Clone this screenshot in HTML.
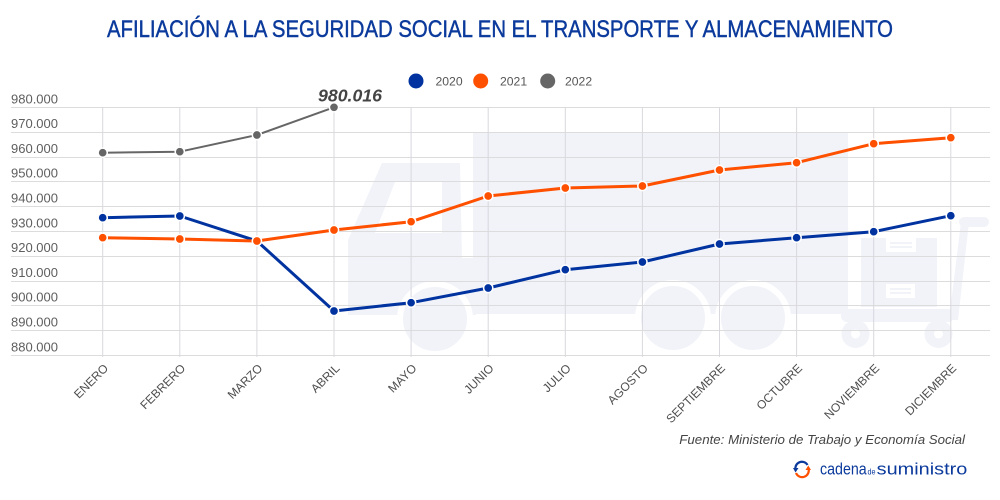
<!DOCTYPE html>
<html><head><meta charset="utf-8"><style>
html,body{margin:0;padding:0;background:#fff;}
svg{display:block;}
text{font-family:"Liberation Sans",sans-serif;}
</style></head><body>
<svg width="1000" height="500" viewBox="0 0 1000 500" xmlns="http://www.w3.org/2000/svg">
<rect width="1000" height="500" fill="#fff"/>
<!-- title -->
<text x="107" y="37" font-size="24" fill="#0b3a9c" stroke="#0b3a9c" stroke-width="0.45" textLength="786" lengthAdjust="spacingAndGlyphs">AFILIACIÓN A LA SEGURIDAD SOCIAL EN EL TRANSPORTE Y ALMACENAMIENTO</text>
<!-- legend -->
<circle cx="416" cy="81" r="7.5" fill="#0033a0"/>
<text x="435.5" y="85.7" font-size="12.2" fill="#555">2020</text>
<circle cx="480.7" cy="81" r="7.5" fill="#ff5000"/>
<text x="500" y="85.7" font-size="12.2" fill="#555">2021</text>
<circle cx="547.7" cy="81" r="7.5" fill="#666"/>
<text x="565" y="85.7" font-size="12.2" fill="#555">2022</text>

<!-- truck silhouette -->
<g fill="#f1f3f9">
  <rect x="473" y="132" width="375" height="182"/>
  <polygon points="382,163 460,163 462,258 476,258 476,315 348,315 348,240"/>
  <polygon points="395,182 442,182 442,233 375,233" fill="#fff"/>
  <circle cx="435" cy="319" r="35" stroke="#fff" stroke-width="6"/>
  <circle cx="673" cy="318" r="35" stroke="#fff" stroke-width="6"/>
  <circle cx="753" cy="318" r="35" stroke="#fff" stroke-width="6"/>
  <!-- cart -->
  <rect x="861" y="238" width="76" height="69"/>
  <rect x="886" y="238" width="30" height="14" fill="#fff"/>
  <rect x="890" y="242" width="22" height="2" fill="#f1f3f9"/>
  <rect x="890" y="246" width="22" height="2" fill="#f1f3f9"/>
  <rect x="886" y="284" width="29" height="14" fill="#fff"/>
  <rect x="890" y="288" width="21" height="2" fill="#f1f3f9"/>
  <rect x="890" y="292" width="21" height="2" fill="#f1f3f9"/>
  <rect x="841" y="309" width="113" height="13" rx="6"/>
  <polygon points="949,320 958,320 969,222 961,222"/>
  <rect x="959" y="217" width="30" height="10" rx="5"/>
  <circle cx="855.5" cy="334" r="14"/>
  <circle cx="855.5" cy="334" r="4.5" fill="#fff"/>
  <circle cx="938.5" cy="334" r="14"/>
  <circle cx="938.5" cy="334" r="4.5" fill="#fff"/>
</g>

<!-- grid -->
<g stroke="#dcdcdc" stroke-width="1">
  <line x1="11" x2="990" y1="107.5" y2="107.5"/>
  <line x1="11" x2="990" y1="132.5" y2="132.5"/>
  <line x1="11" x2="990" y1="157.5" y2="157.5"/>
  <line x1="11" x2="990" y1="181.5" y2="181.5"/>
  <line x1="11" x2="990" y1="206.5" y2="206.5"/>
  <line x1="11" x2="990" y1="231.5" y2="231.5"/>
  <line x1="11" x2="990" y1="256.5" y2="256.5"/>
  <line x1="11" x2="990" y1="281.5" y2="281.5"/>
  <line x1="11" x2="990" y1="305.5" y2="305.5"/>
  <line x1="11" x2="990" y1="330.5" y2="330.5"/>
  <line x1="11" x2="990" y1="355.5" y2="355.5"/>
</g>
<g stroke="#d8d8de" stroke-width="1">
  <line x1="102.7" x2="102.7" y1="107" y2="357"/>
  <line x1="179.8" x2="179.8" y1="107" y2="357"/>
  <line x1="256.9" x2="256.9" y1="107" y2="357"/>
  <line x1="334" x2="334" y1="107" y2="357"/>
  <line x1="411.1" x2="411.1" y1="107" y2="357"/>
  <line x1="488.2" x2="488.2" y1="107" y2="357"/>
  <line x1="565.3" x2="565.3" y1="107" y2="357"/>
  <line x1="642.4" x2="642.4" y1="107" y2="357"/>
  <line x1="719.5" x2="719.5" y1="107" y2="357"/>
  <line x1="796.6" x2="796.6" y1="107" y2="357"/>
  <line x1="873.7" x2="873.7" y1="107" y2="357"/>
  <line x1="950.8" x2="950.8" y1="107" y2="357"/>
</g>

<!-- y labels -->
<g font-size="13" fill="#5e5e5e">
  <text x="11" y="103.3">980.000</text>
  <text x="11" y="128.1">970.000</text>
  <text x="11" y="152.9">960.000</text>
  <text x="11" y="177.7">950.000</text>
  <text x="11" y="202.5">940.000</text>
  <text x="11" y="227.3">930.000</text>
  <text x="11" y="252.1">920.000</text>
  <text x="11" y="276.9">910.000</text>
  <text x="11" y="301.7">900.000</text>
  <text x="11" y="326.5">890.000</text>
  <text x="11" y="351.5">880.000</text>
</g>

<!-- x labels -->
<g font-size="12" fill="#4e4e4e" text-anchor="end">
  <text transform="translate(109,369) rotate(-45)">ENERO</text>
  <text transform="translate(186.1,369) rotate(-45)">FEBRERO</text>
  <text transform="translate(263.2,369) rotate(-45)">MARZO</text>
  <text transform="translate(340.3,369) rotate(-45)">ABRIL</text>
  <text transform="translate(417.4,369) rotate(-45)">MAYO</text>
  <text transform="translate(494.5,369) rotate(-45)">JUNIO</text>
  <text transform="translate(571.6,369) rotate(-45)">JULIO</text>
  <text transform="translate(648.7,369) rotate(-45)">AGOSTO</text>
  <text transform="translate(725.8,369) rotate(-45)">SEPTIEMBRE</text>
  <text transform="translate(802.9,369) rotate(-45)">OCTUBRE</text>
  <text transform="translate(880,369) rotate(-45)">NOVIEMBRE</text>
  <text transform="translate(957.1,369) rotate(-45)">DICIEMBRE</text>
</g>

<!-- series 2020 -->
<polyline fill="none" stroke="#0033a0" stroke-width="3" stroke-linejoin="round" points="102.7,217.7 179.8,216 256.9,241 334,311 411.1,302.7 488.2,288 565.3,269.7 642.4,262 719.5,244 796.6,237.7 873.7,231.7 950.8,215.7"/>
<g fill="#0033a0" stroke="#fff" stroke-width="1.5">
  <circle cx="102.7" cy="217.7" r="4.6"/><circle cx="179.8" cy="216" r="4.6"/><circle cx="256.9" cy="241" r="4.6"/><circle cx="334" cy="311" r="4.6"/><circle cx="411.1" cy="302.7" r="4.6"/><circle cx="488.2" cy="288" r="4.6"/><circle cx="565.3" cy="269.7" r="4.6"/><circle cx="642.4" cy="262" r="4.6"/><circle cx="719.5" cy="244" r="4.6"/><circle cx="796.6" cy="237.7" r="4.6"/><circle cx="873.7" cy="231.7" r="4.6"/><circle cx="950.8" cy="215.7" r="4.6"/>
</g>
<!-- series 2021 -->
<polyline fill="none" stroke="#ff5000" stroke-width="3" stroke-linejoin="round" points="102.7,237.7 179.8,239 256.9,241 334,230 411.1,221.7 488.2,196 565.3,188 642.4,186 719.5,170 796.6,162.7 873.7,143.7 950.8,137.7"/>
<g fill="#ff5000" stroke="#fff" stroke-width="1.5">
  <circle cx="102.7" cy="237.7" r="4.6"/><circle cx="179.8" cy="239" r="4.6"/><circle cx="256.9" cy="241" r="4.6"/><circle cx="334" cy="230" r="4.6"/><circle cx="411.1" cy="221.7" r="4.6"/><circle cx="488.2" cy="196" r="4.6"/><circle cx="565.3" cy="188" r="4.6"/><circle cx="642.4" cy="186" r="4.6"/><circle cx="719.5" cy="170" r="4.6"/><circle cx="796.6" cy="162.7" r="4.6"/><circle cx="873.7" cy="143.7" r="4.6"/><circle cx="950.8" cy="137.7" r="4.6"/>
</g>
<!-- series 2022 -->
<polyline fill="none" stroke="#666" stroke-width="2" stroke-linejoin="round" points="102.7,152.7 179.8,151.7 256.9,135 334,107.3"/>
<g fill="#666" stroke="#fff" stroke-width="1.5">
  <circle cx="102.7" cy="152.7" r="4.6"/><circle cx="179.8" cy="151.7" r="4.6"/><circle cx="256.9" cy="135" r="4.6"/><circle cx="334" cy="107.3" r="4.6"/>
</g>
<text x="318" y="101.7" font-size="17.7" font-weight="bold" font-style="italic" fill="#444" textLength="64" lengthAdjust="spacingAndGlyphs">980.016</text>

<!-- source -->
<text x="679.3" y="444" font-size="13" font-style="italic" fill="#444" textLength="285.7" lengthAdjust="spacingAndGlyphs">Fuente: Ministerio de Trabajo y Economía Social</text>

<!-- logo -->
<g fill="none" stroke-width="2.2">
  <path d="M807.5,465 A6.5,6.5 0 0 0 795.5,469.5" stroke="#0b3a9c"/>
  <path d="M796,473 A6.5,6.5 0 0 0 808.3,468" stroke="#ff5000"/>
</g>
<polygon points="793,468 798.5,468 795.5,472.5" fill="#0b3a9c"/>
<polygon points="805.5,470 811,470 808.3,465.5" fill="#ff5000"/>
<text x="820" y="474.3" font-size="17" fill="#0b3a9c" textLength="46.7" lengthAdjust="spacingAndGlyphs">cadena</text>
<text x="867.5" y="474.3" font-size="8" fill="#0b3a9c" textLength="8" lengthAdjust="spacingAndGlyphs">de</text>
<text x="876.7" y="474.3" font-size="17" fill="#0b3a9c" textLength="90.6" lengthAdjust="spacingAndGlyphs">suministro</text>
</svg>
</body></html>
